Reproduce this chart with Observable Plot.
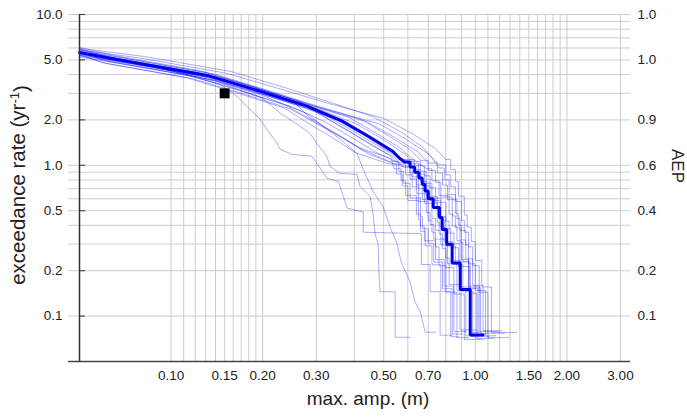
<!DOCTYPE html>
<html><head><meta charset="utf-8">
<script src="https://cdn.jsdelivr.net/npm/d3@7"></script>
<script src="https://cdn.jsdelivr.net/npm/@observablehq/plot@0.6"></script>
<style>body{margin:0;background:#fff} svg{display:block}</style>
</head><body><div id="chart"></div>
<script>
// exceedance-rate levels of the realizations (yr^-1), for a catalogue whose lowest rate is 0.075
const rateLevels = [5.6, 4.93, 3.92, 3.11, 2.47, 1.97, 1.56, 1.24, 1.05, 0.9, 0.75, 0.6, 0.45, 0.375, 0.3, 0.225, 0.15, 0.075, 0.075];
// lowest exceedance rate of each realization (yr^-1)
const lowestRate = [0.078, 0.072, 0.080, 0.074, 0.077, 0.071, 0.079, 0.073, 0.076, 0.070, 0.078, 0.074, 0.081, 0.072, 0.076, 0.079, 0.073];
// amplitudes (m) of the individual realizations at each level
const realizations = [
  [0.05,0.080,0.152,0.225,0.33,0.50,0.62,0.74,0.80,0.83,0.86,0.88,0.92,0.94,0.97,1.00,1.05,1.13,1.37],
  [0.05,0.078,0.148,0.218,0.32,0.48,0.59,0.70,0.76,0.80,0.83,0.86,0.90,0.92,0.95,0.98,1.03,1.10,1.29],
  [0.05,0.082,0.158,0.232,0.33,0.46,0.57,0.67,0.72,0.76,0.79,0.82,0.86,0.88,0.90,0.93,0.98,1.06,1.22],
  [0.05,0.075,0.143,0.21,0.30,0.44,0.54,0.65,0.70,0.75,0.78,0.81,0.87,0.89,0.93,0.95,1.00,1.08,1.17],
  [0.05,0.073,0.139,0.203,0.29,0.42,0.51,0.61,0.66,0.70,0.74,0.77,0.84,0.86,0.89,0.91,0.96,1.04,1.25],
  [0.05,0.077,0.146,0.214,0.31,0.41,0.50,0.59,0.64,0.68,0.71,0.74,0.80,0.82,0.85,0.88,0.96,1.01,1.15],
  [0.05,0.068,0.129,0.19,0.27,0.385,0.47,0.565,0.62,0.69,0.72,0.76,0.82,0.84,0.87,0.90,0.95,1.03,1.19],
  [0.05,0.070,0.133,0.195,0.28,0.37,0.455,0.545,0.60,0.65,0.68,0.71,0.77,0.79,0.81,0.86,0.91,0.98,1.11],
  [0.05,0.064,0.122,0.18,0.26,0.35,0.43,0.515,0.60,0.66,0.69,0.72,0.77,0.80,0.83,0.89,0.95,1.02,1.08],
  [0.05,0.0735,0.14,0.205,0.295,0.355,0.435,0.525,0.57,0.62,0.65,0.68,0.75,0.76,0.78,0.80,0.85,0.92,1.06],
  [0.05,0.066,0.126,0.185,0.265,0.335,0.41,0.495,0.575,0.63,0.66,0.69,0.75,0.765,0.79,0.84,0.89,0.96,1.03],
  [0.05,0.063,0.12,0.175,0.25,0.32,0.39,0.47,0.56,0.61,0.64,0.67,0.72,0.74,0.77,0.81,0.87,0.93,0.99],
  [0.05,0.066,0.125,0.183,0.263,0.315,0.385,0.46,0.54,0.58,0.61,0.64,0.69,0.71,0.73,0.80,0.82,0.89,1.01],
  [0.05,0.0615,0.117,0.172,0.246,0.30,0.37,0.445,0.55,0.59,0.62,0.65,0.70,0.72,0.74,0.76,0.80,0.87,0.95],
  [0.05,0.0595,0.113,0.166,0.238,0.29,0.355,0.43,0.52,0.56,0.58,0.61,0.66,0.67,0.70,0.73,0.78,0.84,0.91],
  [0.05,0.0635,0.121,0.177,0.255,0.285,0.345,0.415,0.53,0.54,0.57,0.59,0.64,0.66,0.68,0.74,0.79,0.85,0.93],
  [0.05,0.059,0.112,0.164,0.235,0.28,0.34,0.405,0.52,0.55,0.575,0.60,0.65,0.66,0.685,0.72,0.77,0.83,0.88]
];
// mean curve: rates (yr^-1) and amplitudes (m)
const meanRate = [5.6, 4.93, 3.92, 3.11, 2.47, 1.97, 1.56, 1.24, 1.125, 1.05, 0.975, 0.9, 0.825, 0.75, 0.675, 0.6, 0.525, 0.45, 0.375, 0.3, 0.225, 0.15, 0.075, 0.075];
const meanAmp  = [0.05, 0.070, 0.133, 0.195, 0.28, 0.364, 0.445, 0.535, 0.56, 0.585, 0.61, 0.632, 0.652, 0.669, 0.683, 0.70, 0.727, 0.762, 0.778, 0.805, 0.839, 0.892, 0.962, 1.06];
// three outlying realizations, as [amplitude, rate] vertices
const outlierA = [[0.05,5.6],[0.0917,4.45],[0.1445,3.45],[0.164,2.88],[0.181,2.36],[0.196,2.03],[0.206,1.74],[0.223,1.40],[0.228,1.28],[0.25,1.18],[0.29,1.15],[0.309,0.96],[0.325,0.82],[0.355,0.78],[0.379,0.52],[0.428,0.49],[0.428,0.36],[0.665,0.352],[0.665,0.22],[0.71,0.22],[0.71,0.145],[0.766,0.145],[0.766,0.0747],[0.839,0.0747]];
const outlierB = [[0.05,5.6],[0.09,4.42],[0.14,3.62],[0.2,2.78],[0.228,2.22],[0.259,1.88],[0.286,1.63],[0.301,1.40],[0.325,1.15],[0.333,0.985],[0.359,0.884],[0.408,0.871],[0.418,0.724],[0.451,0.621],[0.461,0.479],[0.468,0.352],[0.479,0.30],[0.482,0.2],[0.486,0.145],[0.545,0.145],[0.545,0.0724],[0.61,0.0724]];
const outlierC = [[0.05,5.6],[0.09,4.45],[0.14,3.62],[0.2,2.9],[0.28,2.2],[0.359,1.49],[0.408,1.20],[0.428,0.94],[0.461,0.671],[0.497,0.533],[0.524,0.392],[0.553,0.302],[0.57,0.229],[0.61,0.169],[0.634,0.124],[0.66,0.106],[0.684,0.0782],[0.74,0.0782]];
const observedPoint = [[0.15, 3.0]];

const xGrid = [0.10,0.11,0.12,0.13,0.14,0.15,0.16,0.17,0.18,0.19,0.20,0.3,0.4,0.5,0.6,0.7,0.8,0.9,1.0,1.1,1.2,1.3,1.4,1.5,1.6,1.7,1.8,1.9,2.0,3.0];
const xTickLabels = [0.10,0.15,0.20,0.30,0.50,0.70,1.00,1.50,2.00,3.00];
const yGrid = [10,9,8,7,6,5,4,3,2,1,0.9,0.8,0.7,0.6,0.5,0.4,0.3,0.2,0.1];
const yTickLabels = [10,5,2,1,0.5,0.2,0.1];

// smooth at high rates, stairs (step-after) once the rate falls below ~1.1 yr^-1
function toVertices(amps, rates, id) {
  const out = [];
  amps.forEach((a, k) => {
    if (k > 0 && rates[k - 1] < 1.1) out.push({id, x: a, y: rates[k - 1]});
    out.push({id, x: a, y: rates[k]});
  });
  return out;
}
const thinRows = realizations.flatMap((c, i) =>
    toVertices(c, rateLevels.map(r => r * lowestRate[i] / 0.075), "r" + i))
  .concat(outlierA.map(([x, y]) => ({id: "oa", x, y})))
  .concat(outlierB.map(([x, y]) => ({id: "ob", x, y})))
  .concat(outlierC.map(([x, y]) => ({id: "oc", x, y})));
const meanRows = toVertices(meanAmp, meanRate, "mean");

const fmt1 = d3.format(".1f");
const fmt2 = d3.format(".2f");
const chart = Plot.plot({
  width: 687, height: 418,
  marginLeft: 79, marginRight: 67, marginTop: 14, marginBottom: 57,
  x: {type: "log", domain: [0.05, 3], axis: null},
  y: {type: "log", domain: [0.05, 10], axis: null},
  style: {fontFamily: "'Liberation Sans', Arial, sans-serif", fontSize: "13px", color: "#222", background: "#fff"},
  marks: [
    Plot.ruleX(xGrid, {stroke: "#cccccc", strokeWidth: 1}),
    Plot.ruleY(yGrid, {stroke: "#cccccc", strokeWidth: 1, insetLeft: -11, insetRight: -10}),
    Plot.line(thinRows, {x: "x", y: "y", z: "id", stroke: "#0000ff", strokeOpacity: 0.33, strokeWidth: 1}),
    Plot.line(meanRows, {x: "x", y: "y", z: "id", stroke: "#0000f0", strokeWidth: 3, strokeLinejoin: "miter"}),
    Plot.dot(observedPoint, {x: d => d[0], y: d => d[1], symbol: "square", r: 5.6, fill: "#000"}),
    Plot.ruleX([0.05], {stroke: "#333", strokeWidth: 1.5}),
    Plot.ruleY([0.05], {stroke: "#444", strokeWidth: 1.5, insetLeft: -11, insetRight: -10}),
    Plot.tickY(yTickLabels, {y: d => d, stroke: "#333", strokeWidth: 1, insetRight: 535}),
    Plot.text(yTickLabels, {y: d => d, frameAnchor: "left", dx: -17, textAnchor: "end", text: fmt1, fontSize: 13.5, fill: "#222"}),
    Plot.text(yTickLabels, {y: d => d, frameAnchor: "right", dx: 17, textAnchor: "start", text: d => fmt1(1 - Math.exp(-d)), fontSize: 13.5, fill: "#222"}),
    Plot.text(xTickLabels, {x: d => d, frameAnchor: "bottom", dy: 18, text: fmt2, fontSize: 13.5, fill: "#222"}),
    Plot.text(["exceedance rate (yr-1)"], {frameAnchor: "left", dx: -61, dy: -3, rotate: -90, textAnchor: "middle", fontSize: 20.5, fill: "#222"}),
    Plot.text(["AEP"], {frameAnchor: "right", dx: 57, dy: -22, rotate: 90, textAnchor: "middle", fontSize: 17, fill: "#222"}),
    Plot.text(["max. amp. (m)"], {frameAnchor: "bottom", dx: 18, dy: 43, textAnchor: "middle", fontSize: 19, fill: "#222"})
  ]
});
document.getElementById("chart").appendChild(chart);
// superscript "-1" in the y title
d3.select(chart).selectAll("text").filter(function() { return this.textContent === "exceedance rate (yr-1)"; })
  .each(function() {
    const t = d3.select(this);
    t.text("exceedance rate (yr");
    t.append("tspan").attr("dy", "-0.45em").attr("font-size", "13").text("-1");
    t.append("tspan").attr("dy", "0.45em").text(")");
  });
</script>
</body></html>
